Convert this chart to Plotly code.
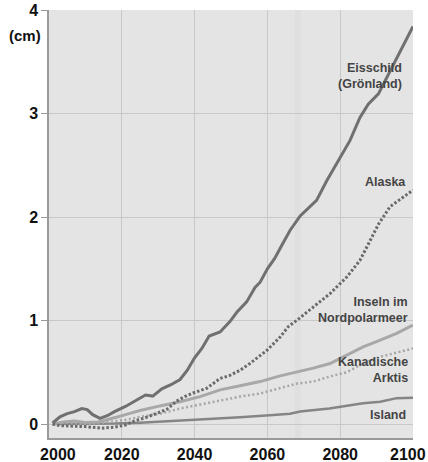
import plotly.graph_objects as go

# ---- data ----
eis_years = [2001, 2003, 2005, 2007, 2009, 2010.5, 2012, 2014, 2016, 2018, 2021, 2024, 2026.5, 2028.5,
             2031, 2033.5, 2036, 2038, 2040, 2042, 2044, 2047, 2049.7, 2051.6, 2054.3, 2056.6, 2058,
             2060, 2062, 2064, 2066.2, 2069, 2071.7, 2073.5, 2076.3, 2080, 2082.7, 2085.4, 2087.7,
             2090.5, 2092.8, 2095.5, 2100]
eis_vals = [0.01, 0.07, 0.10, 0.12, 0.15, 0.14, 0.09, 0.055, 0.08, 0.12, 0.17, 0.23, 0.28, 0.27,
            0.34, 0.38, 0.43, 0.52, 0.64, 0.73, 0.85, 0.89, 0.99, 1.08, 1.18, 1.32, 1.37,
            1.50, 1.60, 1.73, 1.87, 2.01, 2.10, 2.16, 2.35, 2.58, 2.74, 2.96, 3.09,
            3.19, 3.35, 3.54, 3.84]

alaska_years = [2001, 2003, 2006, 2010, 2014.5, 2018, 2021, 2023.5, 2026.4, 2028.7, 2032.3, 2035, 2037,
                2039.6, 2043.3, 2047, 2049.7, 2052.5, 2055.2, 2059.8, 2063.5, 2065.7, 2068, 2072.6,
                2077.2, 2081.8, 2085.4, 2088.2, 2090.5, 2093.7, 2100]
alaska_vals = [0.0, -0.015, -0.02, -0.025, -0.04, -0.03, -0.01, 0.03, 0.06, 0.09, 0.14, 0.22, 0.26,
               0.30, 0.345, 0.44, 0.47, 0.52, 0.585, 0.71, 0.84, 0.94, 1.0, 1.13,
               1.26, 1.42, 1.58, 1.77, 1.93, 2.10, 2.26]

inseln_years = [2001, 2004, 2007, 2010, 2013.5, 2016, 2019, 2022, 2025, 2030.5, 2036, 2041.5, 2047,
                2052.5, 2058, 2063.5, 2068, 2072.6, 2077.2, 2081.8, 2086.3, 2091, 2095.5, 2100]
inseln_vals = [0.0, 0.02, 0.03, 0.015, 0.02, 0.04, 0.07, 0.10, 0.13, 0.175, 0.215, 0.265, 0.33,
               0.37, 0.41, 0.465, 0.50, 0.54, 0.585, 0.665, 0.745, 0.81, 0.875, 0.955]

kanada_years = [2001, 2005, 2010, 2014.5, 2018, 2021.8, 2025, 2030.5, 2036, 2041.5, 2047, 2052.5,
                2058, 2063.5, 2068, 2072.6, 2077.2, 2081.8, 2086.3, 2091, 2095.5, 2100]
kanada_vals = [0.0, 0.0, 0.0, 0.01, 0.025, 0.045, 0.07, 0.10, 0.15, 0.19, 0.23, 0.265,
               0.295, 0.35, 0.39, 0.41, 0.46, 0.50, 0.585, 0.65, 0.69, 0.73]

island_years = [2001, 2010, 2018, 2025, 2034, 2043.3, 2052.5, 2061.6, 2066.2, 2069, 2077, 2086.3,
                2091, 2095.5, 2100]
island_vals = [0.0, 0.0, 0.005, 0.013, 0.03, 0.045, 0.065, 0.087, 0.10, 0.12, 0.15, 0.20,
               0.215, 0.25, 0.255]

x_ticks = [2000, 2020, 2040, 2060, 2080, 2100]
x_ticktext = ["\u00a0\u00a0\u00a0\u00a02000", "2020", "2040", "2060", "2080", ""]
last_x_label = "2100"
y_ticks = [0, 1, 2, 3, 4]
y_ticktext = ["0", "1", "2", "3", "4"]

FONT = "Liberation Sans, Arial, sans-serif"
TICKFONT = dict(family=FONT, size=16, color="#111111", weight="bold")

fig = go.Figure()
fig.add_trace(go.Scatter(x=island_years, y=island_vals, mode="lines",
                         line=dict(color="#858585", width=2.5), hoverinfo="skip"))
fig.add_trace(go.Scatter(x=kanada_years, y=kanada_vals, mode="lines",
                         line=dict(color="#a6a6a6", width=2.5, dash="2px,2.5px"), hoverinfo="skip"))
fig.add_trace(go.Scatter(x=inseln_years, y=inseln_vals, mode="lines",
                         line=dict(color="#a8a8a8", width=3), hoverinfo="skip"))
fig.add_trace(go.Scatter(x=alaska_years, y=alaska_vals, mode="lines",
                         line=dict(color="#6a6a6a", width=3, dash="2.5px,2px"), hoverinfo="skip"))
fig.add_trace(go.Scatter(x=eis_years, y=eis_vals, mode="lines",
                         line=dict(color="#707070", width=3), hoverinfo="skip"))

# scan band artifact
fig.add_shape(type="rect", xref="x", yref="paper", x0=2067.5, x1=2069.2, y0=0, y1=1,
              fillcolor="rgba(0,0,0,0.02)", line=dict(width=0), layer="below")

labels = [
    ("Eisschild<br>(Grönland)", 0.975, 3.36),
    ("Alaska", 0.986, 2.34),
    ("Inseln im<br>Nordpolarmeer", 0.992, 1.10),
    ("Kanadische<br>Arktis", 0.992, 0.52),
    ("Island", 0.986, 0.087),
]
for txt, xp, yv in labels:
    fig.add_annotation(text=txt, x=xp, y=yv, xref="paper", yref="y", xanchor="right",
                       yanchor="middle", align="right", showarrow=False,
                       font=dict(family=FONT, size=12.5, color="#444444", weight="bold"))

fig.add_annotation(text="(cm)", x=(25 - 49) / 364, y=(438 - 36) / 428, xref="paper", yref="paper",
                   showarrow=False, xanchor="center", yanchor="middle",
                   font=dict(family=FONT, size=15, color="#111111", weight="bold"))

# last x tick label, kept inside the page edge
fig.add_annotation(text=last_x_label, x=(427 - 49) / 364, y=(438 - 455) / 428,
                   xref="paper", yref="paper", showarrow=False, xanchor="right",
                   yanchor="middle", borderpad=0, font=TICKFONT)

fig.update_layout(
    width=428, height=462,
    margin=dict(l=49, r=15, t=10, b=24, autoexpand=False),
    paper_bgcolor="white", plot_bgcolor="#e4e4e4",
    showlegend=False,
    font=dict(family=FONT),
)
fig.update_xaxes(range=[2000, 2100], tickvals=x_ticks, ticktext=x_ticktext,
                 showgrid=True, gridcolor="#c8c8c8", gridwidth=1,
                 showline=True, linecolor="#9a9a9a", linewidth=1.5,
                 ticks="", zeroline=False, ticklabelstandoff=1, automargin=False,
                 ticklabeloverflow="allow", tickfont=TICKFONT)
fig.update_yaxes(range=[-0.135, 4.0], tickvals=y_ticks, ticktext=y_ticktext,
                 showgrid=True, gridcolor="#c8c8c8", gridwidth=1,
                 showline=True, linecolor="#9a9a9a", linewidth=1.5,
                 ticks="outside", ticklen=6, tickcolor="#9a9a9a", zeroline=False,
                 ticklabelstandoff=0, automargin=False, ticklabeloverflow="allow",
                 tickfont=TICKFONT)

fig.write_html("out.html", config={"displayModeBar": False},
               post_script="document.body.style.margin='0';document.body.style.overflow='hidden';")
